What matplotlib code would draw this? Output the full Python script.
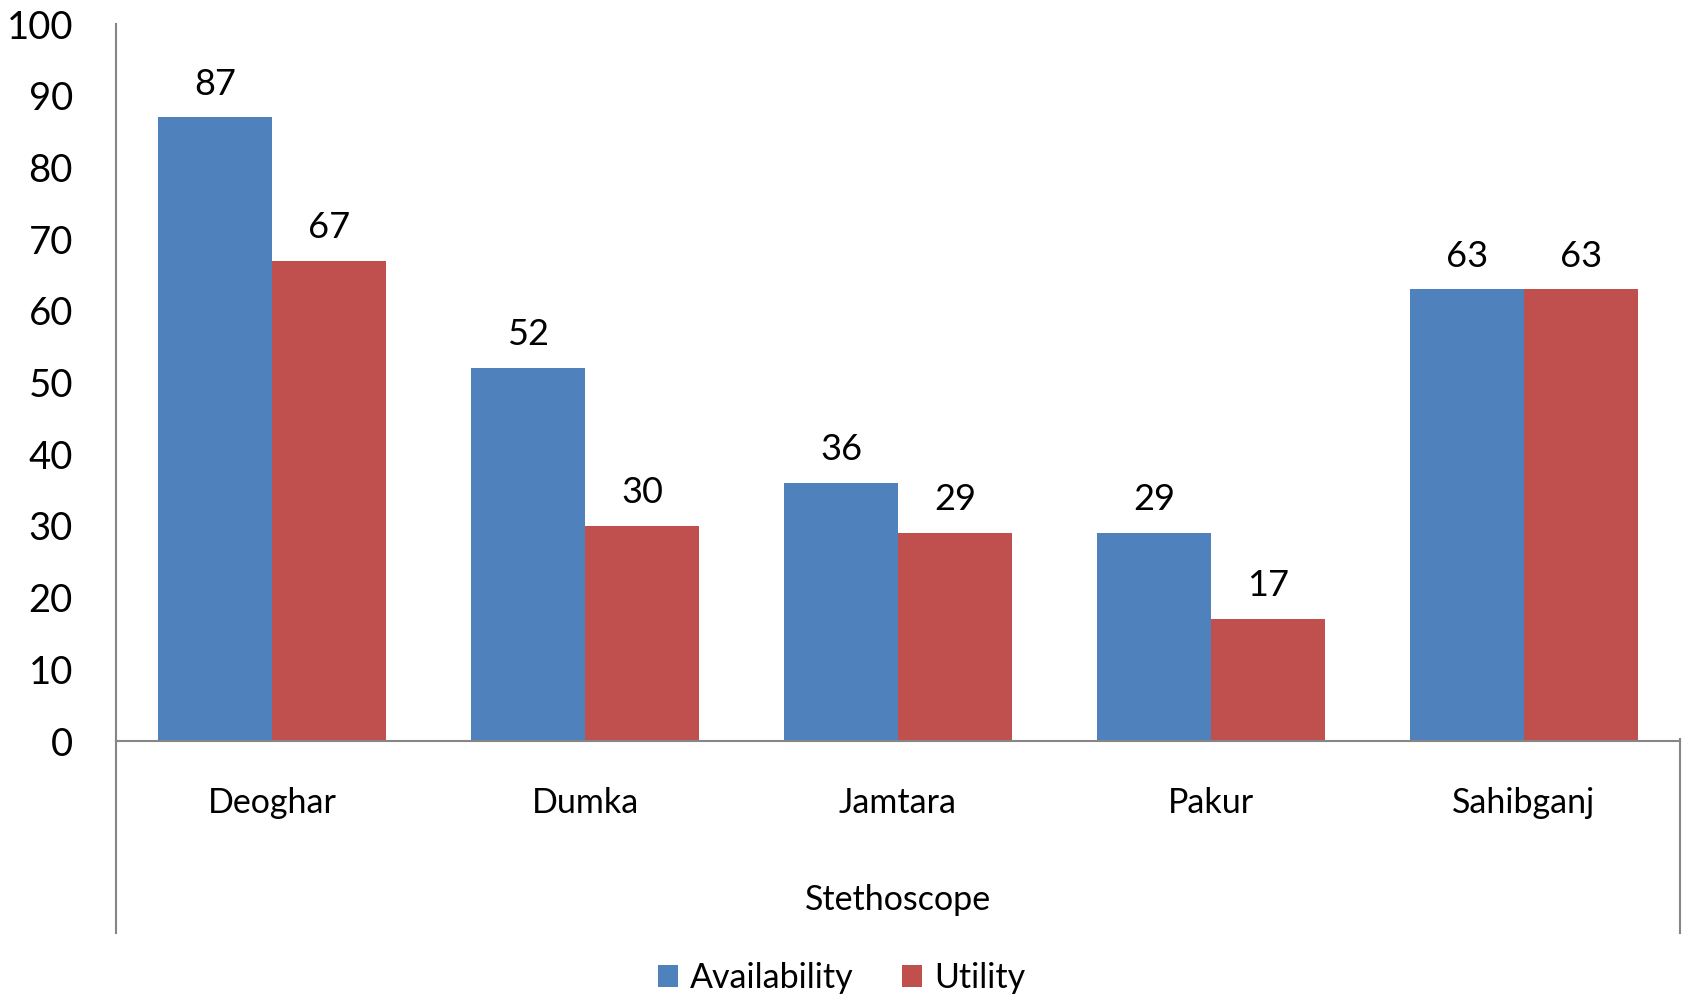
import numpy as np
import matplotlib
matplotlib.use("Agg")
import matplotlib.pyplot as plt
from matplotlib.lines import Line2D

plt.rcParams["font.family"] = ["Lato", "DejaVu Sans"]

districts = ["Deoghar", "Dumka", "Jamtara", "Pakur", "Sahibganj"]
availability = [87, 52, 36, 29, 63]
utility = [67, 30, 29, 17, 63]
group_label = "Stethoscope"
yticks = [0, 10, 20, 30, 40, 50, 60, 70, 80, 90, 100]

BLUE = "#4F81BD"
RED = "#C0504D"
AXIS = "#868686"

W, H = 1683, 996
fig = plt.figure(figsize=(W / 100, H / 100), dpi=100)
ax = fig.add_axes([116 / W, 1 - 741 / H, (1680 - 116) / W, (741 - 24) / H])

x = np.arange(len(districts))
bw = 0.3645
b1 = ax.bar(x - bw / 2, availability, bw, color=BLUE, label="Availability")
b2 = ax.bar(x + bw / 2, utility, bw, color=RED, label="Utility")
for bars in (b1, b2):
    ax.bar_label(bars, padding=12, fontsize=26)

ax.set_xlim(-0.5, len(districts) - 0.5)
ax.set_ylim(0, 100)
ax.set_yticks(yticks)
ax.tick_params(axis="y", length=0, pad=31, labelsize=27.5)
ax.set_xticks(x)
ax.set_xticklabels(districts)
ax.tick_params(axis="x", length=0, pad=33, labelsize=24.5)
for lbl in ax.get_xticklabels():
    lbl.set_x(lbl.get_position()[0])

for s in ("top", "right"):
    ax.spines[s].set_visible(False)
for s in ("left", "bottom"):
    ax.spines[s].set_color(AXIS)
    ax.spines[s].set_linewidth(1.5)

# multi-level category frame below the axis
y_bot = 1 - 933 / H
y_zero = 1 - 741 / H
for xf in (116 / W, 1680 / W):
    fig.add_artist(Line2D([xf, xf], [y_bot, y_zero], color=AXIS, lw=1.5))
fig.add_artist(Line2D([1680 / W, 1680 / W], [y_zero, y_zero + 0.002], color=AXIS, lw=1.5))

fig.text((116 + 1680) / 2 / W, 1 - 900 / H, group_label, ha="center", va="center", fontsize=24.5)

fig.legend(handles=[b1, b2], loc="center", bbox_to_anchor=(0.5, 1 - 978 / H), ncol=2,
           frameon=False, fontsize=24.5, handlelength=0.6, handleheight=0.6,
           handletextpad=0.35, columnspacing=1.4)

fig.savefig("out.png", dpi=100)
